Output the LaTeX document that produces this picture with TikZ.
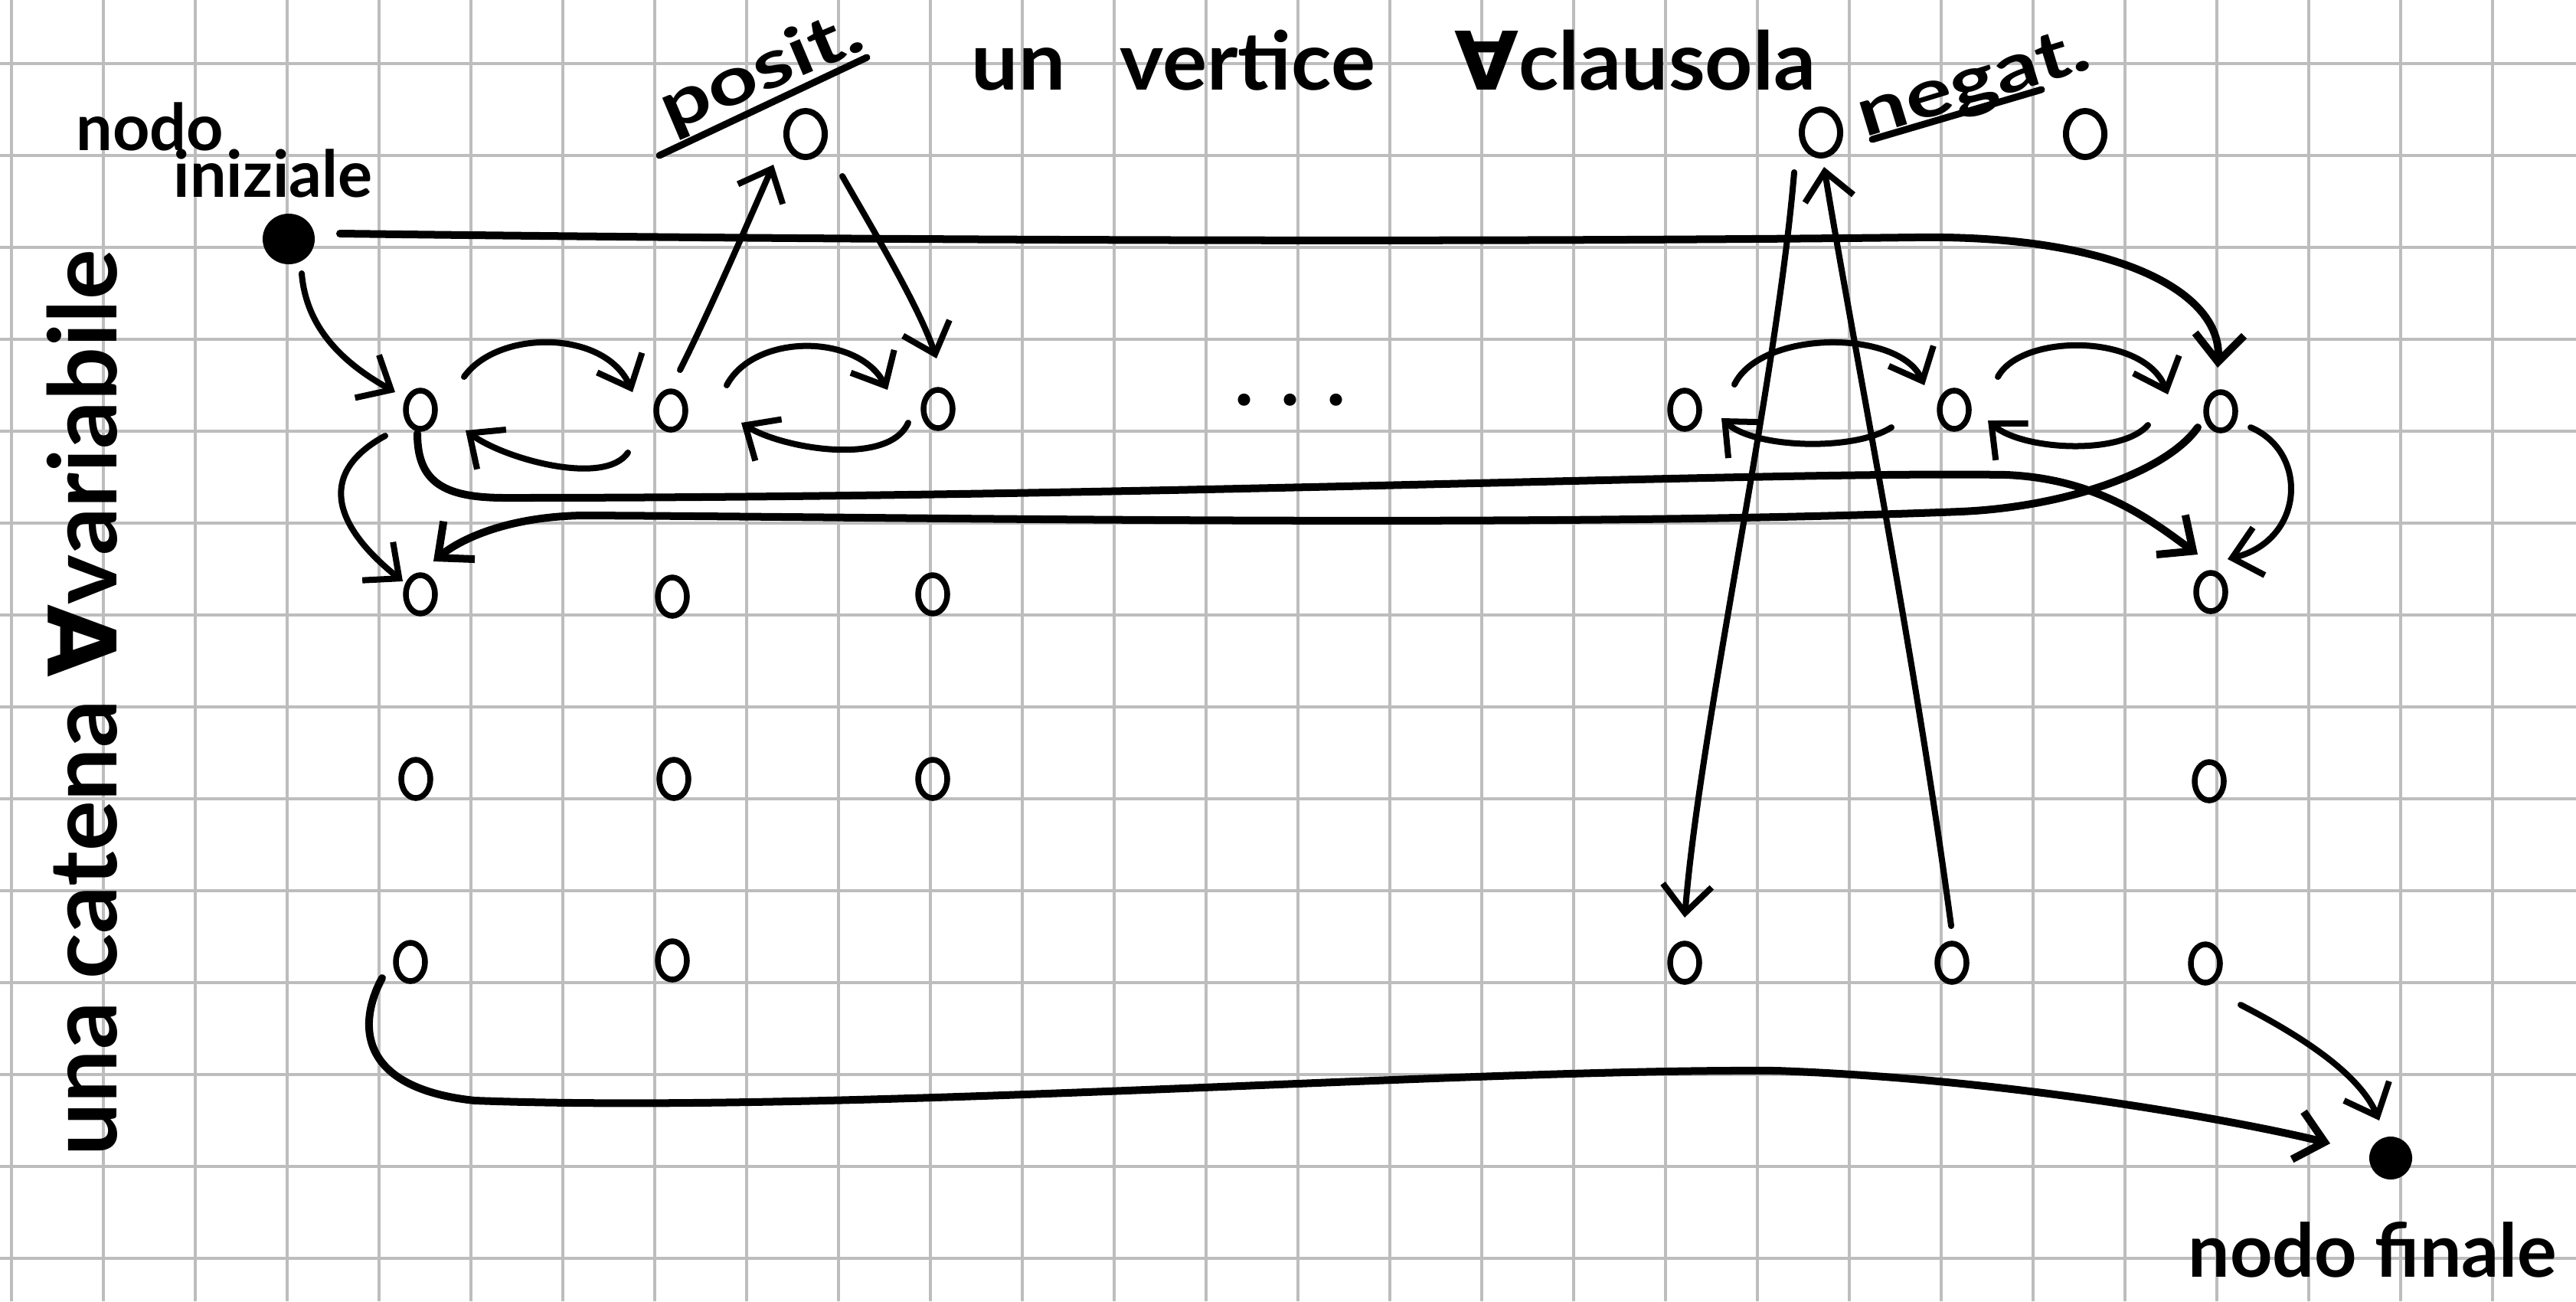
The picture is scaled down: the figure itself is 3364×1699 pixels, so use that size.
\documentclass[tikz,border=0pt]{standalone}
\usepackage{fontspec}
\setmainfont{Lato}
\newfontfamily\symfont{DejaVu Sans}
\usetikzlibrary{arrows.meta,shapes.geometric,calc}
\definecolor{gridgray}{HTML}{BDBDBD}
\begin{document}
\begin{tikzpicture}[x=0.01cm,y=-0.01cm,
  gridline/.style={gridgray, line width=0.04cm},
  ink/.style={line width=0.08cm, line cap=round, line join=round},
  inkthick/.style={line width=0.1cm, line cap=round, line join=round},
  arr/.style={-{Straight Barb[length=0.36cm,width=0.64cm]}},
  vtx/.style={ellipse, draw, line width=0.075cm, minimum width=0.38cm, minimum height=0.5cm, inner sep=0pt},
  bigvtx/.style={vtx, line width=0.08cm, minimum width=0.5cm, minimum height=0.6cm},
  blob/.style={ellipse, fill, inner sep=0pt},
  hand/.style={inner sep=0pt, font=\bfseries\fontsize{24}{26}\selectfont},
  handM/.style={inner sep=0pt, font=\bfseries\fontsize{27.5}{30}\selectfont},
  handL/.style={inner sep=0pt, font=\bfseries\fontsize{30}{32}\selectfont},
  handXL/.style={inner sep=0pt, font=\bfseries\fontsize{35}{37}\selectfont},
  handS/.style={inner sep=0pt, font=\bfseries\fontsize{25}{27}\selectfont},
  ]
% squared paper
\useasboundingbox (0,0) rectangle (3364,1699);
\fill[white] (0,0) rectangle (3364,1699);
\foreach \i in {0,...,27} \draw[gridline] ({15+120*\i},0) -- ({15+120*\i},1699);
\foreach \j in {0,...,13} \draw[gridline] (0,{83+120*\j}) -- (3364,{83+120*\j});

% start and end vertices
\node[blob, minimum width=0.68cm, minimum height=0.66cm] (init) at (377,312) {};
\node[blob, minimum width=0.56cm, minimum height=0.56cm] (fin) at (3122,1512) {};

% clause vertices
\node[bigvtx] (pos) at (1052,175) {};
\node[bigvtx] (neg) at (2378,173) {};
\node[bigvtx] (negb) at (2723,175) {};

% variable chains
\node[vtx] (r1c1) at (549,535) {};
\node[vtx] (r1c2) at (876,536) {};
\node[vtx] (r1c3) at (1225,534) {};
\node[vtx] (r1c4) at (2200,535) {};
\node[vtx] (r1c5) at (2552,535) {};
\node[vtx] (r1c6) at (2900,537) {};
\node[vtx] (r2c1) at (549,776) {};
\node[vtx] (r2c2) at (878,779) {};
\node[vtx] (r2c3) at (1218,776) {};
\node[vtx] (r2c6) at (2887,773) {};
\node[vtx] (r3c1) at (543,1017) {};
\node[vtx] (r3c2) at (880,1017) {};
\node[vtx] (r3c3) at (1218,1017) {};
\node[vtx] (r3c6) at (2885,1020) {};
\node[vtx] (r4c1) at (536,1256) {};
\node[vtx] (r4c2) at (878,1254) {};
\node[vtx] (r4c4) at (2200,1257) {};
\node[vtx] (r4c5) at (2549,1257) {};
\node[vtx] (r4c6) at (2880,1258) {};

% labels
\node[hand, anchor=base west] (lblinitA) at (99,196) {nodo};
\node[hand, anchor=base west] (lblinitB) at (226,257) {iniziale};
\node[handL, anchor=base west] (lblclause) at (1268,117)
  {\scalebox{1.03}[1]{un\hspace{0.69cm}vertice\hspace{1.0cm}{\symfont\bfseries ∀}clausola}};
\node[handXL, rotate=90, anchor=base] (lblchain) at (152,918) {una catena {\symfont\bfseries ∀}variabile};
\node[handM, anchor=base west] (lblfin) at (2857,1667) {nodo finale};
\node[handS, rotate=23, anchor=base] (lblpos) at (1005,118) {\scalebox{1.3}[1]{posit.}};
\node[handS, rotate=17, anchor=base] (lblneg) at (2585,134) {\scalebox{1.3}[1]{negat.}};
\node[handL] (dots) at (1685,522) {.\hspace{0.35cm}.\hspace{0.35cm}.};
\coordinate (posulA) at (861,203);
\coordinate (posulB) at (1132,75);
\coordinate (negulA) at (2445,182);
\coordinate (negulB) at (2666,117);
\draw[ink, line width=0.09cm] (posulA) -- (posulB);
\draw[ink, line width=0.09cm] (negulA) -- (negulB);

% edges from the start vertex
\draw[ink, arr] ($(init)+(17,45)$) .. controls (400,430) and (450,475) .. ($(r1c1)+(-33,-23)$);
\draw[inkthick, arr] ($(init)+(67,-7)$) .. controls (1000,312) and (1800,318) .. (2500,310)
   .. controls (2760,306) and (2902,380) .. ($(r1c6)+(-4,-57)$);

% chain edges, left to right on top
\draw[ink, arr] ($(r1c1)+(57,-43)$) .. controls (650,430) and (790,430) .. ($(r1c2)+(-50,-24)$);
\draw[ink, arr] ($(r1c2)+(73,-33)$) .. controls (985,435) and (1120,435) .. ($(r1c3)+(-66,-25)$);
\draw[ink, arr] ($(r1c4)+(65,-33)$) .. controls (2300,430) and (2480,430) .. ($(r1c5)+(-39,-32)$);
\draw[ink, arr] ($(r1c5)+(57,-43)$) .. controls (2640,435) and (2800,435) .. ($(r1c6)+(-69,-22)$);
% chain edges, right to left below
\draw[ink, arr] ($(r1c2)+(-56,55)$) .. controls (790,635) and (660,600) .. ($(r1c1)+(59,27)$);
\draw[ink, arr] ($(r1c3)+(-39,18)$) .. controls (1160,610) and (1020,585) .. ($(r1c2)+(92,16)$);
\draw[ink, arr] ($(r1c5)+(-82,23)$) .. controls (2420,590) and (2290,585) .. ($(r1c4)+(48,11)$);
\draw[ink, arr] ($(r1c6)+(-95,18)$) .. controls (2770,595) and (2640,588) .. ($(r1c5)+(44,14)$);

% from the ends of the first chain to the next one
\draw[ink, arr] ($(r1c1)+(-46,34)$) .. controls (410,620) and (440,690) .. ($(r2c1)+(-23,-17)$);
\draw[inkthick, arr] ($(r1c1)+(-4,31)$) .. controls (545,630) and (580,650) .. (660,650)
   .. controls (1500,650) and (2300,615) .. (2620,620)
   .. controls (2740,625) and (2810,680) .. ($(r2c6)+(-17,-49)$);
\draw[inkthick, arr] ($(r1c6)+(-30,21)$) .. controls (2830,615) and (2700,662) .. (2560,668)
   .. controls (2000,690) and (1200,675) .. (760,673)
   .. controls (660,675) and (600,705) .. ($(r2c1)+(17,-43)$);
\draw[ink, arr] ($(r1c6)+(39,21)$) .. controls (3015,590) and (3010,705) .. ($(r2c6)+(22,-43)$);

% clause edges
\draw[ink, arr] ($(r1c2)+(12,-53)$) .. controls (930,400) and (990,260) .. ($(pos)+(-42,40)$);
\draw[ink, arr] ($(pos)+(48,55)$) .. controls (1140,300) and (1200,400) .. ($(r1c3)+(-2,-66)$);
\draw[ink, arr] ($(neg)+(-35,52)$) .. controls (2320,500) and (2220,950) .. ($(r4c4)+(0,-59)$);
\draw[ink, arr] ($(r4c5)+(-1,-48)$) .. controls (2500,850) and (2420,450) .. ($(neg)+(4,45)$);

% edges into the end vertex
\draw[inkthick, arr] ($(r4c1)+(-37,21)$) .. controls (470,1330) and (460,1420) .. (620,1437)
   .. controls (1100,1455) and (1900,1395) .. (2320,1398)
   .. controls (2650,1410) and (2950,1470) .. ($(fin)+(-79,-19)$);
\draw[ink, arr] ($(r4c6)+(46,54)$) .. controls (3000,1350) and (3080,1400) .. ($(fin)+(-15,-49)$);
\end{tikzpicture}
\end{document}
